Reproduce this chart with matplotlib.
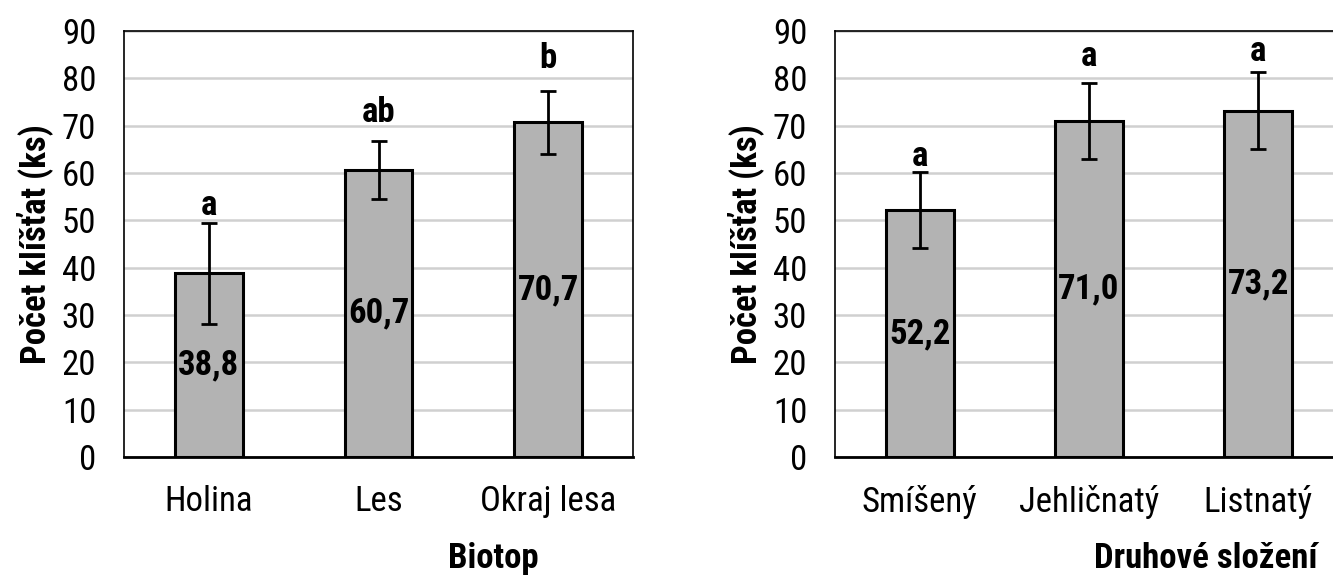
import matplotlib
matplotlib.use("Agg")
import matplotlib.pyplot as plt

# Tick counts per habitat and per forest composition
biotop = ["Holina", "Les", "Okraj lesa"]
biotop_mean = [38.8, 60.7, 70.7]
biotop_err = [10.7, 6.1, 6.6]
biotop_groups = ["a", "ab", "b"]

slozeni = ["Smíšený", "Jehličnatý", "Listnatý"]
slozeni_mean = [52.2, 71.0, 73.2]
slozeni_err = [8.0, 8.1, 8.1]
slozeni_groups = ["a", "a", "a"]

plt.rcParams["font.family"] = ["Liberation Sans Narrow", "Roboto Condensed",
                               "Archivo Narrow", "DejaVu Sans"]

W, H = 1333, 579
FS = 25
fig = plt.figure(figsize=(W / 100, H / 100), dpi=100)


def panel(rect, cats, means, errs, groups, letter_gap, xlabel, xlabel_x):
    ax = fig.add_axes(rect)
    x = range(len(cats))
    ax.bar(x, means, width=0.4, color="#b3b3b3", edgecolor="black",
           linewidth=2.2, zorder=3)
    ax.errorbar(x, means, yerr=errs, fmt="none", ecolor="black",
                elinewidth=2, capsize=6, capthick=2, zorder=4)
    for i, (m, e, g, d) in enumerate(zip(means, errs, groups, letter_gap)):
        # significance letters sit just above the error bar cap
        ax.text(i, m + e + d, g, ha="center", va="baseline",
                fontsize=FS, fontweight="bold")
        ax.text(i, min(m / 2, m - e - 3.6), f"{m:.1f}".replace(".", ","),
                ha="center", va="center", fontsize=FS, fontweight="bold",
                zorder=5)
    ax.set_xlim(-0.5, len(cats) - 0.5)
    ax.set_ylim(0, 90)
    ax.set_yticks(range(0, 91, 10))
    ax.set_xticks(list(x))
    ax.set_xticklabels(cats)
    ax.tick_params(length=0, labelsize=FS, pad=20)
    ax.tick_params(axis="y", pad=20)
    ax.grid(axis="y", color="#d0d0d0", linewidth=1.8, zorder=0)
    for s in ax.spines.values():
        s.set_linewidth(1.2)
    ax.spines["bottom"].set_linewidth(2)
    ax.set_ylabel("Počet klíšťat (ks)", fontsize=FS, fontweight="bold",
                  labelpad=6)
    ax.set_xlabel(xlabel, fontsize=FS, fontweight="bold")
    ax.xaxis.set_label_coords(xlabel_x, -0.2)
    return ax


panel([124 / W, 1 - 457 / H, 509 / W, 426 / H], biotop, biotop_mean,
      biotop_err, biotop_groups, [1.7, 4.0, 4.9], "Biotop", 0.725)
panel([835 / W, 1 - 457 / H, 508 / W, 426 / H], slozeni, slozeni_mean,
      slozeni_err, slozeni_groups, [1.2, 3.5, 2.4], "Druhové složení", 0.73)

fig.savefig("out.png", dpi=100)
